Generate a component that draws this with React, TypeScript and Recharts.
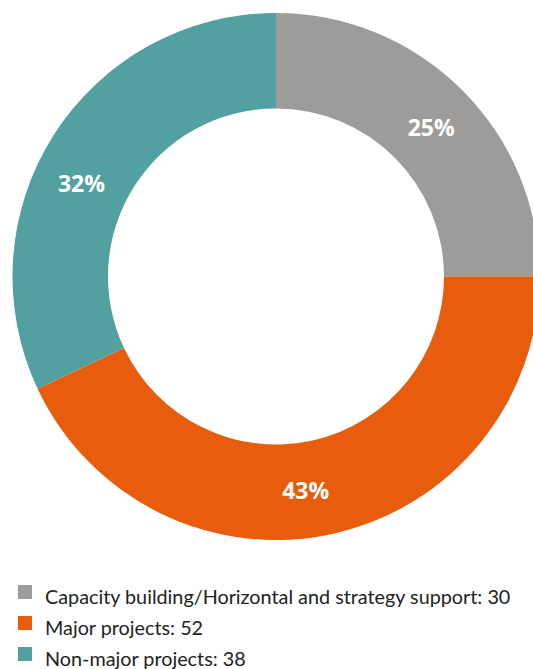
import React from "react";
import { PieChart, Pie, Cell, Legend } from "recharts";

const categories = [
  "Capacity building/Horizontal and strategy support",
  "Major projects",
  "Non-major projects",
];
const values = [30, 52, 38];
const percents = [25, 43, 32];
const colors = ["#9d9c9a", "#e85c0d", "#52a09f"];
// small clockwise angular nudges (degrees) for label placement
const labelNudge = [1, 4.7, -6.8];

const data = categories.map((name, i) => ({ name, value: values[i], pct: percents[i] }));

const RAD = Math.PI / 180;

const renderLabel = (props: any) => {
  const { cx, cy, midAngle, innerRadius, outerRadius, index } = props;
  const r = (innerRadius + outerRadius) / 2;
  const a = midAngle - labelNudge[index];
  const x = cx + r * Math.cos(-a * RAD);
  const y = cy + r * Math.sin(-a * RAD);
  return (
    <text
      x={x}
      y={y}
      fill="#ffffff"
      textAnchor="middle"
      dominantBaseline="central"
      fontFamily="'Open Sans', sans-serif"
      fontWeight="bold"
      fontSize={23}
    >
      {percents[index]}%
    </text>
  );
};

const renderLegend = () => (
  <div style={{ fontFamily: "'Lato', sans-serif", fontSize: 19.8, color: "#222222" }}>
    {data.map((d, i) => (
      <div key={d.name} style={{ display: "flex", alignItems: "center", height: 31 }}>
        <span
          style={{
            display: "inline-block",
            width: 14,
            height: 14,
            background: colors[i],
            marginLeft: 18,
            marginRight: 13,
            marginTop: -8,
          }}
        />
        <span>
          {d.name}: {d.value}
        </span>
      </div>
    ))}
  </div>
);

export default function App() {
  return (
    <div style={{ position: "absolute", left: 0, top: 0, width: 533, height: 669, background: "#fff", overflow: "hidden" }}>
      <PieChart width={533} height={669} margin={{ top: 0, right: 0, bottom: 0, left: 0 }}>
        <Pie
          data={data}
          dataKey="pct"
          cx={276}
          cy={276.5}
          innerRadius={168}
          outerRadius={263.5}
          startAngle={90}
          endAngle={-270}
          stroke="none"
          label={renderLabel}
          labelLine={false}
          isAnimationActive={false}
        >
          {data.map((d, i) => (
            <Cell key={d.name} fill={colors[i]} />
          ))}
        </Pie>
        <Legend
          content={renderLegend}
          wrapperStyle={{ position: "absolute", left: 0, top: 580, width: 533 }}
        />
      </PieChart>
    </div>
  );
}
